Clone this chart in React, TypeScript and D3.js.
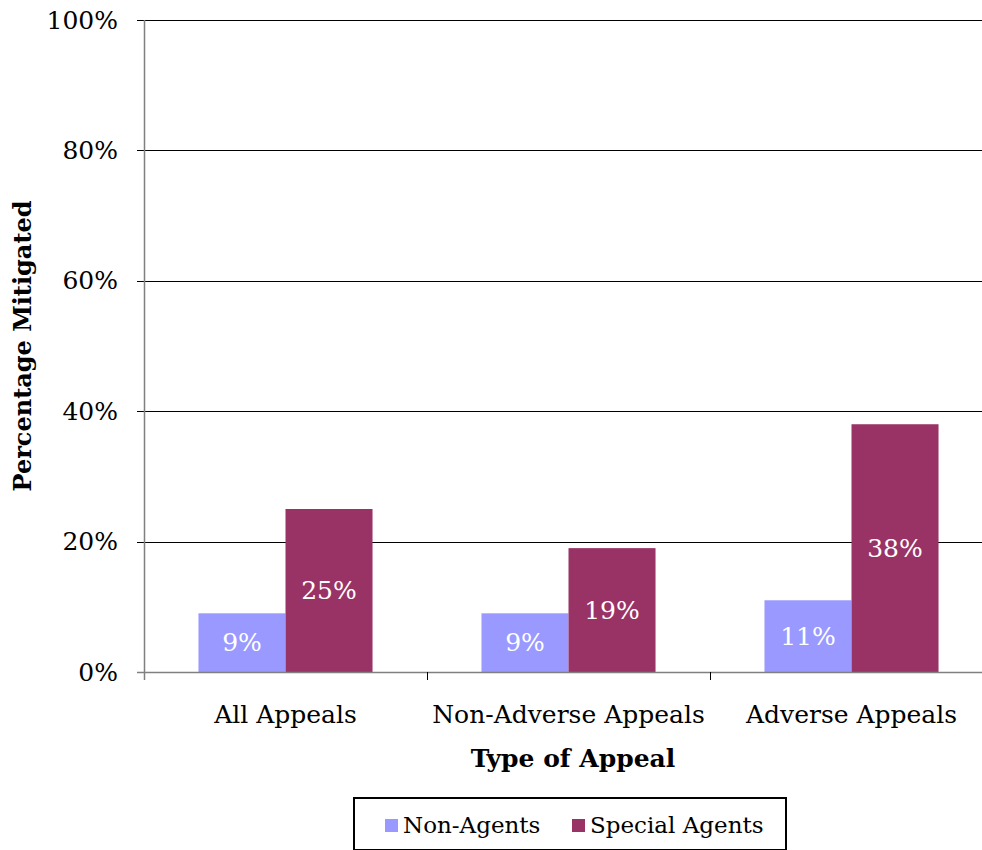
import React from "react";
import * as d3 from "d3";

const categories = ["All Appeals", "Non-Adverse Appeals", "Adverse Appeals"];
const seriesNames = ["Non-Agents", "Special Agents"];
const nonAgents = [9, 9, 11];
const specialAgents = [25, 19, 38];
const yTicks = [0, 20, 40, 60, 80, 100];
const colors = ["#9999FF", "#993366"];

const FONT = "'DejaVu Serif', serif";

export default function App() {
  const W = 982, H = 850;
  const left = 144, right = 993, top = 20, bottom = 672;
  const x = d3.scaleBand().domain(categories).range([left, right]).paddingInner(0).paddingOuter(0);
  const inner = d3.scaleBand().domain(seriesNames).range([0, x.bandwidth()]).paddingOuter(0.626).paddingInner(0);
  const y = d3.scaleLinear().domain([0, 100]).range([bottom, top]);
  const series = [nonAgents, specialAgents];

  return (
    <svg width={W} height={H} style={{ display: "block", position: "absolute", left: 0, top: 0 }} fontFamily={FONT}>
      <rect x={0} y={0} width={W} height={H} fill="#fff" />
      {yTicks.filter((t) => t > 0).map((t) => (
        <line key={t} x1={left - 7} x2={W} y1={Math.round(y(t)) + 0.5} y2={Math.round(y(t)) + 0.5} stroke="#000" strokeWidth={1} />
      ))}
      {categories.map((c, ci) =>
        series.map((s, si) => {
          const bx = (x(c) as number) + (inner(seriesNames[si]) as number);
          const bw = inner.bandwidth();
          const v = s[ci];
          return (
            <g key={c + si}>
              <rect x={bx} y={y(v)} width={bw} height={bottom - y(v)} fill={colors[si]} />
              <text x={bx + bw / 2} y={(y(v) + bottom) / 2} textAnchor="middle" dominantBaseline="central" fill="#fff" fontSize={25}>
                {v}%
              </text>
            </g>
          );
        })
      )}
      {/* baseline */}
      <line x1={left - 7} x2={W} y1={bottom + 0.5} y2={bottom + 0.5} stroke="#808080" strokeWidth={1.5} />
      {/* y axis */}
      <line x1={left + 0.5} x2={left + 0.5} y1={top} y2={bottom + 8} stroke="#808080" strokeWidth={1.5} />
      {categories.map((c, ci) =>
        ci > 0 ? (
          <line key={"t" + c} x1={(x(c) as number) + 0.5} x2={(x(c) as number) + 0.5} y1={bottom} y2={bottom + 8} stroke="#000" strokeWidth={1} />
        ) : null
      )}
      {yTicks.map((t) => (
        <text key={"yl" + t} x={118} y={y(t)} textAnchor="end" dominantBaseline="central" fontSize={25} fill="#000">
          {t}%
        </text>
      ))}
      {categories.map((c) => (
        <text key={"xl" + c} x={(x(c) as number) + x.bandwidth() / 2} y={714} textAnchor="middle" dominantBaseline="central" fontSize={25} fill="#000">
          {c}
        </text>
      ))}
      <text x={573} y={758} textAnchor="middle" dominantBaseline="central" fontSize={25} fontWeight="bold" fill="#000">
        Type of Appeal
      </text>
      <text transform={`translate(22,346) rotate(-90)`} textAnchor="middle" dominantBaseline="central" fontSize={24} fontWeight="bold" fill="#000">
        Percentage Mitigated
      </text>
      {/* legend */}
      <rect x={354} y={798} width={432} height={52} fill="#fff" stroke="#000" strokeWidth={2} />
      {seriesNames.map((n, i) => {
        const lx = [385, 572][i];
        return (
          <g key={"lg" + n}>
            <rect x={lx} y={819} width={13} height={13} fill={colors[i]} />
            <text x={lx + 18} y={825} dominantBaseline="central" fontSize={23} fill="#000">
              {n}
            </text>
          </g>
        );
      })}
    </svg>
  );
}
